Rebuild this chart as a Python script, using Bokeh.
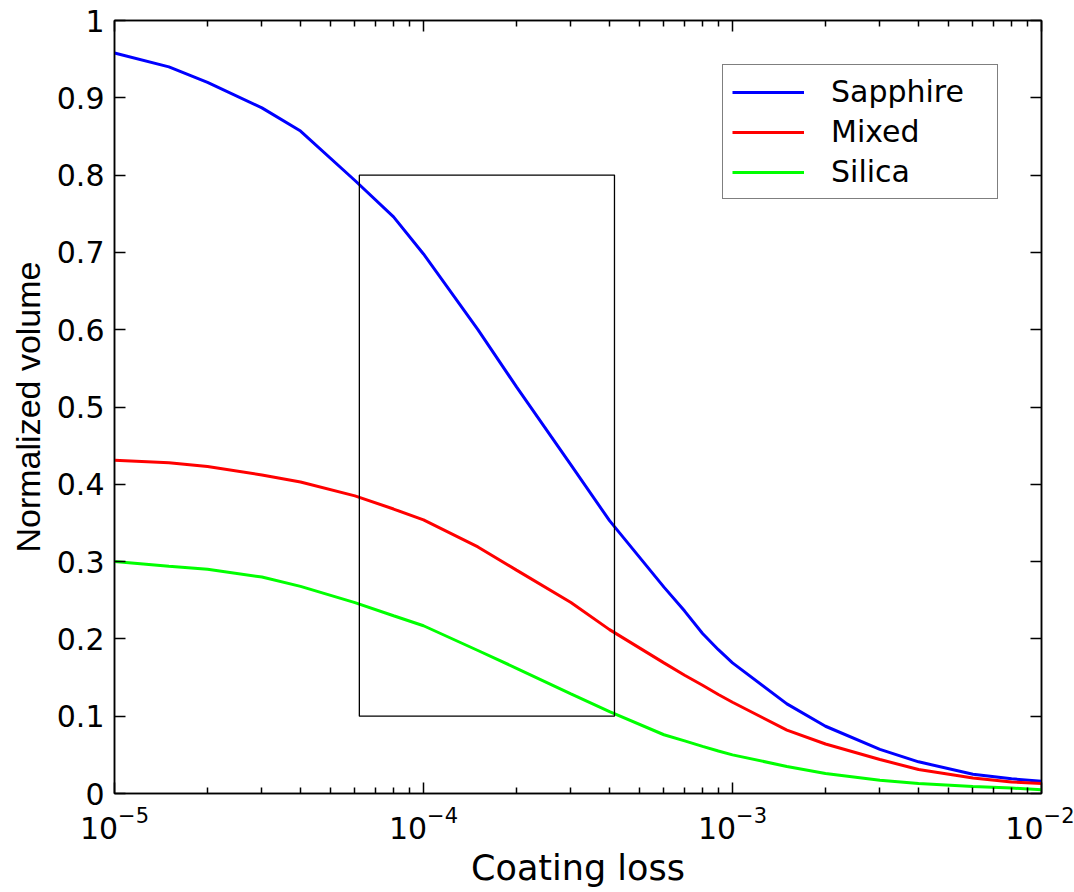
from bokeh.plotting import figure
from bokeh.models import (Range1d, LogAxis, LinearAxis, FixedTicker, CustomJSTickFormatter,
                          LogTickFormatter, Legend, LegendItem, ColumnDataSource)
from bokeh.embed import file_html
from bokeh.resources import INLINE

# ---------------- data ----------------
coating_loss = [1.0e-5, 1.5e-5, 2.0e-5, 3.0e-5, 4.0e-5, 6.0e-5, 8.0e-5, 1.0e-4,
                1.5e-4, 2.0e-4, 3.0e-4, 4.0e-4, 6.0e-4, 7.0e-4, 8.0e-4, 9.0e-4,
                1.0e-3, 1.5e-3, 2.0e-3, 3.0e-3, 4.0e-3, 6.0e-3, 8.0e-3, 1.0e-2]
sapphire = [0.958, 0.940, 0.920, 0.887, 0.857, 0.793, 0.746, 0.698, 0.600, 0.526,
            0.425, 0.353, 0.267, 0.236, 0.207, 0.186, 0.169, 0.116, 0.087, 0.057,
            0.041, 0.025, 0.019, 0.016]
mixed = [0.431, 0.428, 0.423, 0.412, 0.403, 0.385, 0.368, 0.354, 0.319, 0.289,
         0.247, 0.212, 0.169, 0.153, 0.140, 0.128, 0.118, 0.082, 0.064, 0.044,
         0.031, 0.020, 0.015, 0.013]
silica = [0.300, 0.294, 0.290, 0.280, 0.268, 0.247, 0.230, 0.217, 0.185, 0.162,
          0.129, 0.106, 0.076, 0.068, 0.061, 0.055, 0.050, 0.035, 0.026, 0.017,
          0.013, 0.009, 0.007, 0.005]
series_names = ["Sapphire", "Mixed", "Silica"]
series_colors = ["#0000ff", "#ff0000", "#00ff00"]

# highlighted region (rectangle)
box_left = [6.2e-5]
box_right = [4.15e-4]
box_bottom = [0.1]
box_top = [0.8]

x_major_ticks = [1e-5, 1e-4, 1e-3, 1e-2]
y_major_ticks = [0, 0.1, 0.2, 0.3, 0.4, 0.5, 0.6, 0.7, 0.8, 0.9, 1.0]

x_label = "Coating loss"
y_label = "Normalized volume"

# ---------------- styling ----------------
FONT = "DejaVu Sans"
YLABEL_FONT = "Liberation Sans"
TICK_FS = "30px"
LABEL_FS = "35px"

x_minor_ticks = [m * t for t in x_major_ticks[:-1] for m in range(2, 10)]
xticker = FixedTicker(ticks=x_major_ticks, minor_ticks=x_minor_ticks)
yticker = FixedTicker(ticks=y_major_ticks, minor_ticks=[])

p = figure(width=1074, height=890, x_axis_type="log",
           x_range=Range1d(1e-5, 1e-2), y_range=Range1d(0, 1),
           output_backend="svg", toolbar_location=None,
           min_border_left=114, min_border_right=33,
           min_border_top=20, min_border_bottom=97)
p.background_fill_color = "white"
p.border_fill_color = "white"
p.outline_line_color = "black"
p.outline_line_width = 1.5
p.xgrid.visible = False
p.ygrid.visible = False


def style_axis(ax):
    ax.axis_line_color = "black"
    ax.axis_line_width = 1.5
    ax.major_tick_line_color = "black"
    ax.minor_tick_line_color = "black"
    ax.major_tick_line_width = 1.5
    ax.minor_tick_line_width = 1.5
    ax.major_tick_in = 11
    ax.major_tick_out = 0
    ax.minor_tick_in = 6
    ax.minor_tick_out = 0
    ax.major_label_text_font = FONT
    ax.major_label_text_font_size = TICK_FS
    ax.major_label_text_color = "black"
    ax.axis_label_text_font = FONT
    ax.axis_label_text_font_size = LABEL_FS
    ax.axis_label_text_font_style = "normal"
    ax.axis_label_text_color = "black"


xa = p.xaxis[0]
xa.ticker = xticker
xa.formatter = LogTickFormatter()
xa.axis_label = x_label
style_axis(xa)
xa.major_label_standoff = 12
xa.axis_label_standoff = 6

ya = p.yaxis[0]
ya.ticker = yticker
ya.formatter = CustomJSTickFormatter(code="return tick.toFixed(1).replace(/\\.0$/, '');")
ya.axis_label = y_label
style_axis(ya)
ya.axis_label_text_font = YLABEL_FONT
ya.axis_label_text_font_size = "34px"
ya.major_label_standoff = 10
ya.axis_label_standoff = 7

top_ax = LogAxis(ticker=xticker, formatter=CustomJSTickFormatter(code="return '';"))
style_axis(top_ax)
top_ax.major_label_standoff = 0
p.add_layout(top_ax, "above")

right_ax = LinearAxis(ticker=yticker, formatter=CustomJSTickFormatter(code="return '';"))
style_axis(right_ax)
right_ax.major_label_standoff = 0
p.add_layout(right_ax, "right")

# ---------------- glyphs ----------------
source = ColumnDataSource(dict(x=coating_loss, Sapphire=sapphire, Mixed=mixed, Silica=silica))
renderers = []
for name, color in zip(series_names, series_colors):
    r = p.line("x", name, source=source, line_color=color, line_width=3)
    renderers.append(r)

p.quad(left=box_left, right=box_right, bottom=box_bottom, top=box_top,
       fill_color=None, line_color="black", line_width=1.3)

legend = Legend(items=[LegendItem(label=n, renderers=[r]) for n, r in zip(series_names, renderers)],
                location=(608, 594))
legend.label_text_font = FONT
legend.label_text_font_size = TICK_FS
legend.label_text_color = "black"
legend.border_line_color = "black"
legend.border_line_width = 1.5
legend.background_fill_color = "white"
legend.background_fill_alpha = 1.0
legend.padding = 9
legend.spacing = 5
legend.glyph_width = 72
legend.glyph_height = 30
legend.label_standoff = 27
legend.label_width = 157
legend.margin = 0
p.add_layout(legend)

open("out.html", "w").write(file_html(p, INLINE))
